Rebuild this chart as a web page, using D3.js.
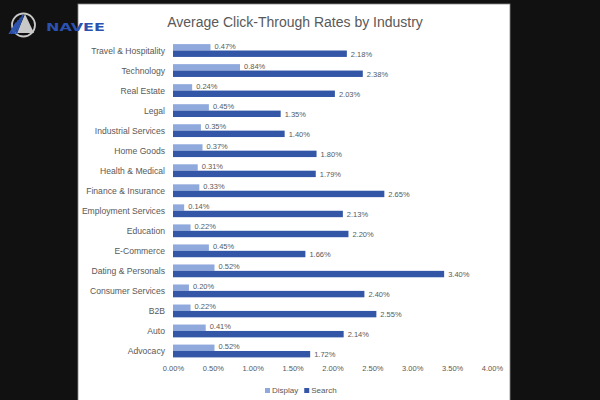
<!DOCTYPE html>
<html><head><meta charset="utf-8">
<script src="https://cdn.jsdelivr.net/npm/d3@7"></script>
<style>html,body{margin:0;padding:0;background:#111;}svg{display:block;}</style>
</head><body>
<svg id="c" width="600" height="400"></svg>
<script>
const categories = ["Travel & Hospitality","Technology","Real Estate","Legal","Industrial Services","Home Goods","Health & Medical","Finance & Insurance","Employment Services","Education","E-Commerce","Dating & Personals","Consumer Services","B2B","Auto","Advocacy"];
const displayValues = [0.47,0.84,0.24,0.45,0.35,0.37,0.31,0.33,0.14,0.22,0.45,0.52,0.20,0.22,0.41,0.52];
const searchValues = [2.18,2.38,2.03,1.35,1.40,1.80,1.79,2.65,2.13,2.20,1.66,3.40,2.40,2.55,2.14,1.72];
const seriesNames = ["Display","Search"];
const tickValues = [0,0.5,1,1.5,2,2.5,3,3.5,4];
const title = "Average Click-Through Rates by Industry";

const svg = d3.select("#c");
const colors = d3.scaleOrdinal().domain(seriesNames).range(["#8fa9dc","#3356a6"]);
const font = "'Liberation Sans', Arial, sans-serif";
const grey = "#595959";

svg.append("rect").attr("width",600).attr("height",400).attr("fill","#111");
svg.append("rect").attr("x",78).attr("y",4).attr("width",432).attr("height",400)
  .attr("fill","#fff").attr("stroke","#888").attr("stroke-width",0.8);

svg.append("text").attr("x",295).attr("y",27).attr("text-anchor","middle")
  .attr("font-family",font).attr("font-size",14).attr("fill",grey).text(title);

const x = d3.scaleLinear().domain([0,4]).range([173,492]);
const y = d3.scaleBand().domain(categories).range([40.5,361]).paddingInner(0.36).paddingOuter(0.18);
const ys = d3.scaleBand().domain(seriesNames).range([0,y.bandwidth()]);

const rows = categories.map((c,i)=>({cat:c, vals:[{s:"Display",v:displayValues[i]},{s:"Search",v:searchValues[i]}]}));
const g = svg.append("g");
const rg = g.selectAll("g.row").data(rows).join("g").attr("transform",d=>`translate(0,${y(d.cat)})`);
rg.selectAll("rect").data(d=>d.vals).join("rect")
  .attr("x",x(0)).attr("y",d=>ys(d.s)).attr("width",d=>x(d.v)-x(0)).attr("height",ys.bandwidth())
  .attr("fill",d=>colors(d.s));
rg.selectAll("text.val").data(d=>d.vals).join("text").attr("class","val")
  .attr("x",d=>x(d.v)+4).attr("y",d=>ys(d.s)+ys.bandwidth()/2+ (d.s==="Display"?-0.5:1))
  .attr("dominant-baseline","middle")
  .attr("font-family",font).attr("font-size",7.5).attr("fill",grey)
  .text(d=>d.v.toFixed(2)+"%");

// category axis
const ya = d3.axisLeft(y).tickSize(0).tickPadding(8);
svg.append("g").attr("transform",`translate(${x(0)},0)`).call(ya)
  .call(s=>s.select(".domain").remove())
  .call(s=>s.selectAll("text").attr("font-family",font).attr("font-size",8.6).attr("fill",grey).attr("dy","0.4em"));

const xa = d3.axisBottom(x).tickValues(tickValues).tickSize(0).tickPadding(0).tickFormat(d=>d.toFixed(2)+"%");
svg.append("g").attr("transform","translate(0,366)").call(xa)
  .call(s=>s.select(".domain").remove())
  .call(s=>s.selectAll("text").attr("font-family",font).attr("font-size",7.5).attr("fill",grey));

// legend
const lg = svg.append("g").attr("transform","translate(265,391)");
let lx = 0;
seriesNames.forEach(n=>{
  lg.append("rect").attr("x",lx).attr("y",-3).attr("width",5).attr("height",5).attr("fill",colors(n));
  const t = lg.append("text").attr("x",lx+7).attr("y",0).attr("dominant-baseline","middle")
    .attr("font-family",font).attr("font-size",8).attr("fill",grey).text(n);
  lx += 7 + t.node().getComputedTextLength() + 6;
});

// logo (drawn on top)
const logo = svg.append("g");
logo.append("circle").attr("cx",23.5).attr("cy",25).attr("r",11.5).attr("fill","none").attr("stroke","#c9c9c9").attr("stroke-width",1.8);
logo.append("path").attr("d","M25,14 L34,33 L17,33 Z").attr("fill","#c8c8c8");
[0,1,2,3].forEach(i=>{
  logo.append("path").attr("d",`M${22-i*2.2},${15+i*2.5} L${24-i*2.2},${15+i*2.5} L${17-i*2.2},${34} L${15-i*2.2},${34} Z`).attr("fill","#2d55b0");
});
logo.append("text").attr("x",46).attr("y",30.5).text("NAVEE")
  .attr("font-family","'DejaVu Sans', sans-serif").attr("font-weight","bold").attr("font-size",11)
  .attr("textLength",59).attr("lengthAdjust","spacingAndGlyphs").attr("fill","#2b52b0");
</script>
</body></html>
